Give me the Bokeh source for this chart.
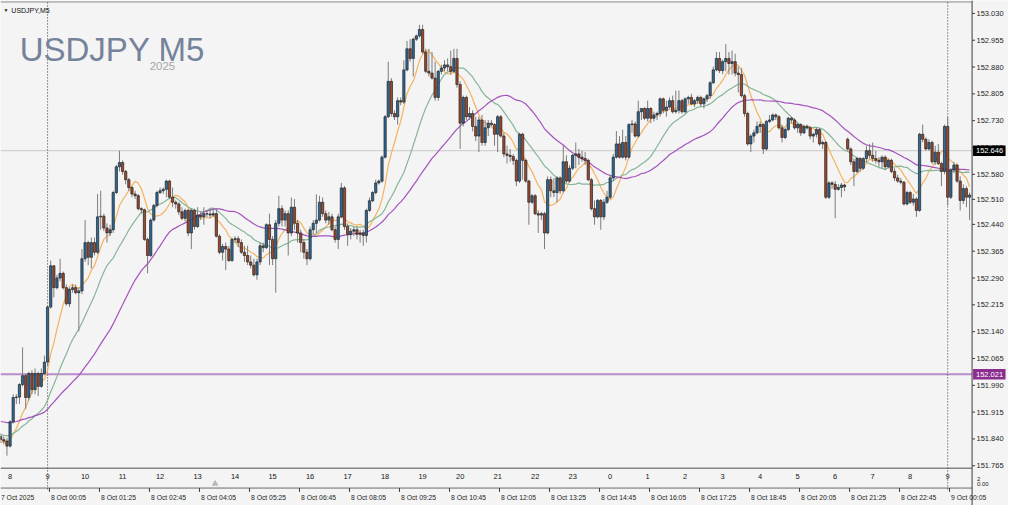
from bokeh.plotting import figure
from bokeh.models import Range1d, ColumnDataSource
from bokeh.embed import file_html
from bokeh.resources import INLINE
from bokeh.core.properties import value

# ---------------- data ----------------
header_text = "USDJPY,M5"
symbol_title = "USDJPY M5"
year_text = "2025"

open_ = [
    151.847, 151.838, 151.834, 151.820, 151.888, 151.956, 151.957, 151.992, 152.017, 151.956,
    152.023, 151.978, 152.023, 151.987, 152.023, 152.055, 152.209, 152.324, 152.263, 152.290,
    152.303, 152.263, 152.218, 152.258, 152.263, 152.249, 152.254, 152.344, 152.389, 152.348,
    152.389, 152.362, 152.461, 152.463, 152.430, 152.416, 152.425, 152.529, 152.601, 152.613,
    152.588, 152.565, 152.543, 152.525, 152.520, 152.484, 152.481, 152.398, 152.353, 152.452,
    152.493, 152.529, 152.534, 152.538, 152.561, 152.516, 152.502, 152.497, 152.475, 152.457,
    152.479, 152.416, 152.479, 152.434, 152.466, 152.461, 152.470, 152.469, 152.466, 152.470,
    152.407, 152.362, 152.378, 152.371, 152.339, 152.398, 152.400, 152.389, 152.362, 152.353,
    152.335, 152.326, 152.299, 152.335, 152.380, 152.375, 152.439, 152.398, 152.344, 152.443,
    152.484, 152.452, 152.470, 152.416, 152.488, 152.443, 152.416, 152.389, 152.362, 152.344,
    152.425, 152.443, 152.452, 152.502, 152.470, 152.452, 152.461, 152.425, 152.398, 152.461,
    152.542, 152.434, 152.412, 152.421, 152.425, 152.412, 152.416, 152.409, 152.479, 152.506,
    152.529, 152.556, 152.561, 152.628, 152.741, 152.840, 152.750, 152.741, 152.786, 152.782,
    152.872, 152.931, 152.904, 152.958, 152.967, 152.985, 152.922, 152.868, 152.863, 152.849,
    152.795, 152.868, 152.877, 152.886, 152.881, 152.868, 152.904, 152.831, 152.723, 152.795,
    152.741, 152.750, 152.714, 152.687, 152.732, 152.669, 152.710, 152.723, 152.719, 152.692,
    152.741, 152.687, 152.637, 152.633, 152.630, 152.619, 152.561, 152.692, 152.619, 152.561,
    152.502, 152.520, 152.470, 152.466, 152.470, 152.416, 152.565, 152.534, 152.529, 152.570,
    152.534, 152.615, 152.561, 152.597, 152.633, 152.637, 152.628, 152.624, 152.619, 152.565,
    152.484, 152.461, 152.507, 152.461, 152.502, 152.516, 152.570, 152.628, 152.665, 152.628,
    152.669, 152.628, 152.719, 152.721, 152.687, 152.755, 152.764, 152.737, 152.764, 152.737,
    152.746, 152.750, 152.791, 152.759, 152.768, 152.786, 152.755, 152.759, 152.786, 152.755,
    152.791, 152.795, 152.777, 152.786, 152.795, 152.777, 152.791, 152.800, 152.836, 152.872,
    152.904, 152.870, 152.895, 152.904, 152.890, 152.895, 152.863, 152.859, 152.800, 152.750,
    152.665, 152.687, 152.696, 152.714, 152.719, 152.651, 152.728, 152.732, 152.746, 152.741,
    152.710, 152.683, 152.705, 152.737, 152.732, 152.710, 152.719, 152.696, 152.714, 152.710,
    152.687, 152.692, 152.705, 152.665, 152.669, 152.516, 152.556, 152.552, 152.538, 152.543,
    152.550, 152.678, 152.651, 152.615, 152.588, 152.624, 152.597, 152.624, 152.646, 152.633,
    152.624, 152.619, 152.615, 152.628, 152.601, 152.619, 152.588, 152.570, 152.561, 152.558,
    152.497, 152.529, 152.502, 152.511, 152.479, 152.692, 152.678, 152.651, 152.669, 152.615,
    152.642, 152.610, 152.588, 152.714, 152.516, 152.592, 152.606, 152.561, 152.507, 152.540,
    152.516,
]
high = [
    151.856, 151.847, 151.843, 151.892, 151.965, 151.965, 151.996, 152.096, 152.023, 152.028,
    152.032, 152.037, 152.028, 152.037, 152.073, 152.213, 152.339, 152.326, 152.299, 152.344,
    152.308, 152.272, 152.263, 152.272, 152.272, 152.263, 152.371, 152.452, 152.394, 152.403,
    152.403, 152.525, 152.534, 152.470, 152.443, 152.439, 152.534, 152.606, 152.646, 152.619,
    152.592, 152.570, 152.547, 152.534, 152.525, 152.488, 152.484, 152.403, 152.457, 152.497,
    152.534, 152.543, 152.543, 152.565, 152.565, 152.543, 152.507, 152.502, 152.488, 152.484,
    152.484, 152.484, 152.484, 152.488, 152.475, 152.488, 152.479, 152.484, 152.484, 152.484,
    152.412, 152.385, 152.389, 152.380, 152.403, 152.407, 152.407, 152.398, 152.380, 152.380,
    152.353, 152.344, 152.344, 152.389, 152.389, 152.443, 152.470, 152.407, 152.452, 152.520,
    152.493, 152.479, 152.479, 152.515, 152.511, 152.452, 152.425, 152.398, 152.371, 152.434,
    152.452, 152.524, 152.520, 152.515, 152.479, 152.475, 152.470, 152.434, 152.470, 152.556,
    152.547, 152.443, 152.430, 152.434, 152.434, 152.425, 152.425, 152.484, 152.515, 152.533,
    152.565, 152.565, 152.633, 152.746, 152.895, 152.849, 152.759, 152.795, 152.795, 152.899,
    152.953, 152.958, 152.962, 152.971, 152.998, 152.998, 152.931, 152.931, 152.922, 152.895,
    152.872, 152.886, 152.899, 152.904, 152.926, 152.931, 152.931, 152.840, 152.800, 152.800,
    152.768, 152.759, 152.741, 152.741, 152.746, 152.732, 152.732, 152.732, 152.723, 152.746,
    152.746, 152.696, 152.660, 152.651, 152.637, 152.624, 152.696, 152.696, 152.624, 152.565,
    152.525, 152.525, 152.479, 152.475, 152.475, 152.574, 152.574, 152.570, 152.574, 152.574,
    152.660, 152.633, 152.606, 152.637, 152.669, 152.651, 152.646, 152.642, 152.624, 152.570,
    152.507, 152.511, 152.511, 152.511, 152.534, 152.579, 152.637, 152.701, 152.687, 152.705,
    152.687, 152.723, 152.732, 152.728, 152.786, 152.764, 152.768, 152.786, 152.768, 152.755,
    152.755, 152.795, 152.795, 152.786, 152.795, 152.800, 152.814, 152.814, 152.791, 152.795,
    152.800, 152.805, 152.791, 152.800, 152.800, 152.795, 152.805, 152.841, 152.881, 152.922,
    152.922, 152.900, 152.944, 152.922, 152.926, 152.917, 152.881, 152.877, 152.805, 152.755,
    152.692, 152.705, 152.728, 152.728, 152.723, 152.732, 152.746, 152.750, 152.750, 152.746,
    152.719, 152.710, 152.741, 152.741, 152.737, 152.723, 152.723, 152.719, 152.719, 152.714,
    152.696, 152.710, 152.710, 152.674, 152.674, 152.561, 152.561, 152.561, 152.552, 152.556,
    152.554, 152.683, 152.655, 152.624, 152.628, 152.628, 152.628, 152.660, 152.665, 152.669,
    152.646, 152.628, 152.633, 152.633, 152.624, 152.624, 152.597, 152.579, 152.570, 152.561,
    152.534, 152.534, 152.525, 152.516, 152.696, 152.719, 152.683, 152.678, 152.674, 152.660,
    152.665, 152.615, 152.719, 152.741, 152.597, 152.615, 152.610, 152.574, 152.552, 152.547,
    152.529,
]
low = [
    151.829, 151.825, 151.793, 151.816, 151.883, 151.938, 151.938, 151.987, 151.924, 151.947,
    151.965, 151.965, 151.960, 151.983, 152.019, 152.046, 152.204, 152.236, 152.258, 152.281,
    152.258, 152.213, 152.209, 152.249, 152.245, 152.141, 152.245, 152.335, 152.326, 152.317,
    152.353, 152.357, 152.425, 152.421, 152.389, 152.407, 152.416, 152.525, 152.588, 152.579,
    152.552, 152.534, 152.516, 152.511, 152.479, 152.470, 152.394, 152.303, 152.348, 152.448,
    152.488, 152.525, 152.525, 152.516, 152.511, 152.488, 152.484, 152.466, 152.452, 152.448,
    152.407, 152.371, 152.425, 152.430, 152.452, 152.439, 152.461, 152.457, 152.461, 152.403,
    152.357, 152.339, 152.312, 152.335, 152.335, 152.389, 152.376, 152.357, 152.335, 152.326,
    152.317, 152.294, 152.285, 152.326, 152.362, 152.371, 152.326, 152.326, 152.249, 152.434,
    152.434, 152.434, 152.353, 152.407, 152.425, 152.389, 152.362, 152.344, 152.326, 152.339,
    152.412, 152.416, 152.448, 152.461, 152.443, 152.439, 152.421, 152.389, 152.371, 152.457,
    152.425, 152.380, 152.398, 152.407, 152.398, 152.389, 152.380, 152.389, 152.475, 152.502,
    152.524, 152.551, 152.556, 152.624, 152.737, 152.741, 152.732, 152.719, 152.773, 152.777,
    152.868, 152.895, 152.854, 152.953, 152.962, 152.917, 152.863, 152.854, 152.845, 152.786,
    152.786, 152.859, 152.868, 152.868, 152.859, 152.863, 152.822, 152.651, 152.714, 152.732,
    152.732, 152.700, 152.673, 152.642, 152.660, 152.660, 152.687, 152.714, 152.660, 152.642,
    152.683, 152.628, 152.610, 152.615, 152.606, 152.547, 152.556, 152.565, 152.556, 152.439,
    152.497, 152.466, 152.416, 152.452, 152.371, 152.412, 152.516, 152.516, 152.502, 152.525,
    152.529, 152.556, 152.556, 152.592, 152.597, 152.606, 152.615, 152.606, 152.561, 152.479,
    152.439, 152.457, 152.425, 152.452, 152.497, 152.511, 152.561, 152.624, 152.624, 152.624,
    152.619, 152.624, 152.696, 152.683, 152.683, 152.732, 152.732, 152.728, 152.723, 152.728,
    152.732, 152.741, 152.750, 152.741, 152.764, 152.750, 152.750, 152.750, 152.750, 152.750,
    152.777, 152.773, 152.768, 152.777, 152.768, 152.764, 152.782, 152.791, 152.832, 152.868,
    152.863, 152.860, 152.868, 152.859, 152.859, 152.854, 152.809, 152.795, 152.741, 152.660,
    152.642, 152.669, 152.692, 152.696, 152.637, 152.646, 152.723, 152.728, 152.732, 152.705,
    152.669, 152.678, 152.701, 152.723, 152.705, 152.696, 152.687, 152.692, 152.705, 152.678,
    152.669, 152.683, 152.660, 152.651, 152.511, 152.511, 152.539, 152.457, 152.534, 152.516,
    152.533, 152.646, 152.606, 152.547, 152.583, 152.588, 152.592, 152.615, 152.624, 152.615,
    152.610, 152.601, 152.597, 152.592, 152.597, 152.583, 152.561, 152.556, 152.552, 152.493,
    152.493, 152.497, 152.493, 152.461, 152.475, 152.669, 152.646, 152.646, 152.610, 152.606,
    152.606, 152.547, 152.580, 152.493, 152.511, 152.583, 152.556, 152.479, 152.497, 152.488,
    152.452,
]
close = [
    151.838, 151.834, 151.820, 151.888, 151.956, 151.957, 151.992, 152.017, 151.956, 152.023,
    151.978, 152.023, 151.987, 152.023, 152.055, 152.209, 152.324, 152.263, 152.290, 152.303,
    152.263, 152.218, 152.258, 152.263, 152.249, 152.254, 152.344, 152.389, 152.348, 152.389,
    152.362, 152.461, 152.463, 152.430, 152.416, 152.425, 152.529, 152.601, 152.613, 152.588,
    152.565, 152.543, 152.525, 152.520, 152.484, 152.481, 152.398, 152.353, 152.452, 152.493,
    152.529, 152.534, 152.538, 152.561, 152.516, 152.502, 152.497, 152.475, 152.457, 152.479,
    152.416, 152.479, 152.434, 152.466, 152.461, 152.470, 152.469, 152.466, 152.470, 152.407,
    152.362, 152.378, 152.371, 152.339, 152.398, 152.400, 152.389, 152.362, 152.353, 152.335,
    152.326, 152.299, 152.335, 152.380, 152.375, 152.439, 152.398, 152.344, 152.443, 152.484,
    152.452, 152.470, 152.416, 152.488, 152.443, 152.416, 152.389, 152.362, 152.344, 152.425,
    152.443, 152.452, 152.502, 152.470, 152.452, 152.461, 152.425, 152.398, 152.461, 152.542,
    152.434, 152.412, 152.421, 152.425, 152.412, 152.416, 152.409, 152.479, 152.506, 152.529,
    152.556, 152.561, 152.628, 152.741, 152.840, 152.750, 152.741, 152.786, 152.782, 152.872,
    152.931, 152.904, 152.958, 152.967, 152.985, 152.922, 152.868, 152.863, 152.849, 152.795,
    152.868, 152.877, 152.886, 152.881, 152.868, 152.904, 152.831, 152.723, 152.795, 152.741,
    152.750, 152.714, 152.687, 152.732, 152.669, 152.710, 152.723, 152.719, 152.692, 152.741,
    152.687, 152.637, 152.633, 152.630, 152.619, 152.561, 152.692, 152.619, 152.561, 152.502,
    152.520, 152.470, 152.466, 152.470, 152.416, 152.565, 152.534, 152.529, 152.570, 152.534,
    152.615, 152.561, 152.597, 152.633, 152.637, 152.628, 152.624, 152.619, 152.565, 152.484,
    152.461, 152.507, 152.461, 152.502, 152.516, 152.570, 152.628, 152.665, 152.628, 152.669,
    152.628, 152.719, 152.721, 152.687, 152.755, 152.764, 152.737, 152.764, 152.737, 152.746,
    152.750, 152.791, 152.759, 152.768, 152.786, 152.755, 152.759, 152.786, 152.755, 152.791,
    152.795, 152.777, 152.786, 152.795, 152.777, 152.791, 152.800, 152.836, 152.872, 152.904,
    152.870, 152.895, 152.904, 152.890, 152.895, 152.863, 152.859, 152.800, 152.750, 152.665,
    152.687, 152.696, 152.714, 152.719, 152.651, 152.728, 152.732, 152.746, 152.741, 152.710,
    152.683, 152.705, 152.737, 152.732, 152.710, 152.719, 152.696, 152.714, 152.710, 152.687,
    152.692, 152.705, 152.665, 152.669, 152.516, 152.556, 152.552, 152.538, 152.543, 152.550,
    152.545, 152.651, 152.615, 152.588, 152.624, 152.597, 152.624, 152.646, 152.633, 152.624,
    152.619, 152.615, 152.628, 152.601, 152.619, 152.588, 152.570, 152.561, 152.558, 152.497,
    152.529, 152.502, 152.511, 152.479, 152.692, 152.678, 152.651, 152.669, 152.615, 152.642,
    152.610, 152.588, 152.714, 152.516, 152.592, 152.606, 152.561, 152.507, 152.540, 152.516,
    152.522,
]

bid_price = 152.646
level_price = 152.021
ma_periods = [8, 20, 40]
ma_seeds = [151.830, 151.852, 151.890]   # MA levels at the left edge of the picture

price_ticks = [153.030, 152.955, 152.880, 152.805, 152.730, 152.655, 152.580, 152.510, 152.440,
               152.365, 152.290, 152.215, 152.140, 152.065, 151.990, 151.915, 151.840, 151.765]

hour_labels = ["8", "9", "10", "11", "12", "13", "14", "15", "16", "17", "18", "19", "20",
               "21", "22", "23", "0", "1", "2", "3", "4", "5", "6", "7", "8", "9"]
hour_first_bar = 3
bars_per_hour = 12

time_labels = ["7 Oct 2025", "8 Oct 00:05", "8 Oct 01:25", "8 Oct 02:45", "8 Oct 04:05",
               "8 Oct 05:25", "8 Oct 06:45", "8 Oct 08:05", "8 Oct 09:25", "8 Oct 10:45",
               "8 Oct 12:05", "8 Oct 13:25", "8 Oct 14:45", "8 Oct 16:05", "8 Oct 17:25",
               "8 Oct 18:45", "8 Oct 20:05", "8 Oct 21:25", "8 Oct 22:45", "9 Oct 00:05"]
bars_per_time_label = 16
day_start_bars = [15, 303]
sub_axis_labels = ["2", "0.00"]

# ---------------- layout / style ----------------
W, H = 1008, 505
REF_W, REF_H = 1024, 521
AXIS_REF_X = 987.0
BAR_STEP_REF = 3.175
BAR0_REF = 0.2
PX = 1.0 / BAR_STEP_REF          # one reference pixel, in bar units

BG = "#f4f4f4"
BULL = "#2c6a9b"
BEAR = "#a3472a"
OUTLINE = "#232323"
WICK = "#7c7c7c"
AXIS_COL = "#3c3c3c"
MA_COLORS = ["#f6b25e", "#86b697", "#a552bd"]
FONT = value("Liberation Sans")


def ref_x_to_bar(xr):
    return (xr - BAR0_REF) / BAR_STEP_REF


# price <-> reference pixel mapping from two right-axis labels
P_A, Y_A = price_ticks[0], 13.3
P_B, Y_B = price_ticks[-1], 480.0
slope = (P_A - P_B) / (Y_B - Y_A)      # price per reference pixel
y_top = P_A + Y_A * slope
y_bot = P_B - (REF_H - Y_B) * slope

x_start = ref_x_to_bar(0.0)
x_stop = ref_x_to_bar(REF_W)
axis_x = ref_x_to_bar(AXIS_REF_X)

p = figure(width=W, height=H, title=None, output_backend="svg", toolbar_location=None,
           x_range=Range1d(x_start, x_stop), y_range=Range1d(y_bot, y_top),
           x_axis_location=None, y_axis_location=None,
           min_border_left=0, min_border_top=0, min_border_bottom=0, min_border_right=0,
           background_fill_color=BG, border_fill_color=BG, outline_line_color=None)
p.extra_y_ranges = {"scr": Range1d(REF_H, 0)}
p.grid.visible = False

n = len(close)
idx = list(range(n))

# reference price lines (stop at the price scale)
p.segment(x0=[x_start], x1=[axis_x], y0=[bid_price], y1=[bid_price],
          line_color="#c8c8c8", line_width=1)
p.segment(x0=[x_start], x1=[axis_x], y0=[level_price], y1=[level_price],
          line_color="#b98ccb", line_width=2)

# frame lines (layout)
p.segment(x0=[x_start] * 3, x1=[axis_x] * 3, y0=[1.5, 482.5, 503.0], y1=[1.5, 482.5, 503.0],
          y_range_name="scr", line_color=["#8a8a8a", "#4d4d4d", "#6a6a6a"], line_width=1)

# day separators
p.segment(x0=day_start_bars, x1=day_start_bars, y0=[2] * len(day_start_bars),
          y1=[505] * len(day_start_bars), y_range_name="scr",
          line_color="#3a3a3a", line_dash="1 2", line_width=1)


# simple moving averages; the unseen history before the first bar is held at the
# level each average shows at the left edge of the picture
def sma(vals, period, seed):
    hist = [seed] * (period - 1) + list(vals)
    return [sum(hist[i:i + period]) / period for i in range(len(vals))]


for per, seed, col in zip(ma_periods, ma_seeds, MA_COLORS):
    p.line(idx, sma(close, per, seed), line_color=col, line_width=1.2)

# candles
src = ColumnDataSource(dict(
    x=idx, o=open_, h=high, l=low, c=close,
    top=[max(a, b) for a, b in zip(open_, close)],
    bot=[min(a, b) for a, b in zip(open_, close)],
    col=[BULL if c >= o else BEAR for o, c in zip(open_, close)],
))
p.segment(x0="x", x1="x", y0="l", y1="h", source=src, line_color=WICK, line_width=1)
p.vbar(x="x", width=0.72, top="top", bottom="bot", source=src,
       fill_color="col", line_color=OUTLINE, line_width=0.7)

# ---- price scale (right) ----
p.segment(x0=[axis_x], x1=[axis_x], y0=[0], y1=[REF_H], y_range_name="scr",
          line_color=AXIS_COL, line_width=1)
p.segment(x0=[axis_x] * len(price_ticks), x1=[axis_x + 3 * PX] * len(price_ticks),
          y0=price_ticks, y1=price_ticks, line_color=AXIS_COL, line_width=1)
p.text(x=[axis_x + 4.5 * PX] * len(price_ticks), y=price_ticks,
       text=[f"{t:.3f}" for t in price_ticks],
       text_font=FONT, text_font_size="7.5px", text_color="#1e1e1e",
       text_align="left", text_baseline="middle")

# price boxes
box_prices = [bid_price, level_price]
p.quad(left=[axis_x + 1 * PX] * 2, right=[axis_x + 34 * PX] * 2,
       bottom=[bp - 5.5 * slope for bp in box_prices],
       top=[bp + 5.5 * slope for bp in box_prices],
       fill_color=["#000000", "#8b2c8f"], line_color=None)
p.text(x=[axis_x + 4 * PX] * 2, y=box_prices, text=[f"{bp:.3f}" for bp in box_prices],
       text_font=FONT, text_font_size="7.5px", text_color="#ffffff",
       text_align="left", text_baseline="middle")

# sub-window scale labels
p.text(x=[axis_x + 5 * PX] * 2, y=[493.5, 498.5], y_range_name="scr", text=sub_axis_labels,
       text_font=FONT, text_font_size="6px", text_color="#1e1e1e",
       text_align="left", text_baseline="middle")

# titles
p.text(x=[ref_x_to_bar(3)], y=[9.5], text=["\u25bc"], y_range_name="scr",
       text_font=FONT, text_font_size="5px", text_color="#111111",
       text_baseline="alphabetic", text_align="left")
p.text(x=[ref_x_to_bar(11)], y=[10.5], text=[header_text], y_range_name="scr",
       text_font=FONT, text_font_size="7px", text_color="#111111",
       text_baseline="alphabetic", text_align="left")
p.text(x=[ref_x_to_bar(19.5)], y=[50.5], text=[symbol_title], y_range_name="scr",
       text_font=FONT, text_font_size="33px", text_color="#75839a",
       text_baseline="alphabetic", text_align="left")
p.text(x=[ref_x_to_bar(151.5)], y=[67.8], text=[year_text], y_range_name="scr",
       text_font=FONT, text_font_size="11.5px", text_color="#a6a6a6",
       text_baseline="alphabetic", text_align="left")

# sub-window hour labels
hour_x = [hour_first_bar + k * bars_per_hour for k in range(len(hour_labels))]
p.text(x=hour_x, y=[491.5] * len(hour_x), text=hour_labels, y_range_name="scr",
       text_font=FONT, text_font_size="7.5px", text_color="#161616",
       text_align="center", text_baseline="middle")

# time axis ticks and labels
tick_x = [k * bars_per_time_label - 0.4 for k in range(len(time_labels))]
p.segment(x0=tick_x, x1=tick_x, y0=[503] * len(tick_x), y1=[507] * len(tick_x),
          y_range_name="scr", line_color="#3a3a3a", line_width=1)
p.text(x=tick_x, y=[512.5] * len(tick_x), text=time_labels, y_range_name="scr",
       x_offset=1.5, text_font=FONT, text_font_size="6.8px", text_color="#1e1e1e",
       text_align="left", text_baseline="middle")

# chart-shift marker
p.scatter(x=[ref_x_to_bar(218)], y=[498.5], y_range_name="scr", marker="triangle",
          size=7, fill_color="#b8b8b8", line_color=None)

open("out.html", "w").write(file_html(p, INLINE))
